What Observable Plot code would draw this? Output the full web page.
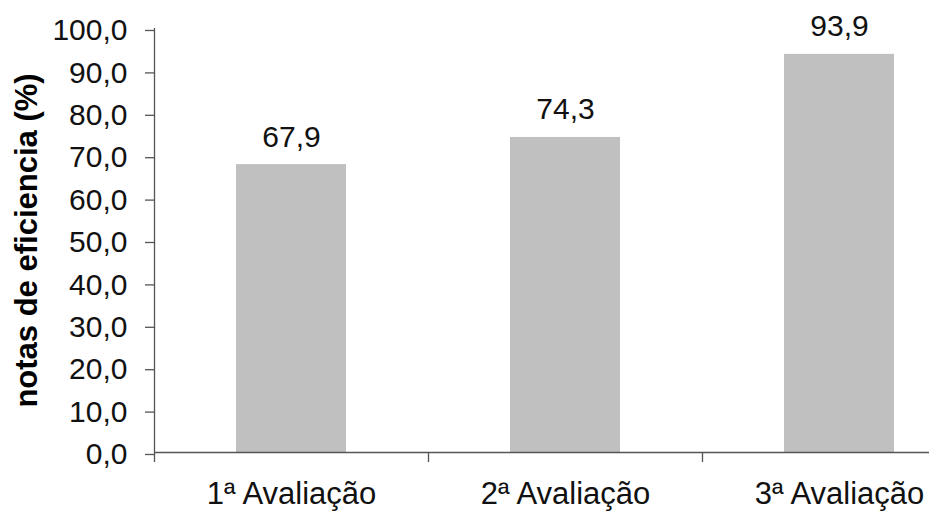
<!DOCTYPE html>
<html>
<head>
<meta charset="utf-8">
<script src="https://cdn.jsdelivr.net/npm/d3@7"></script>
<script src="https://cdn.jsdelivr.net/npm/@observablehq/plot@0.6"></script>
<style>
  html, body { margin: 0; padding: 0; background: #fff; overflow: hidden; }
</style>
</head>
<body>
<div id="chart"></div>
<script>
const categories = ["1ª Avaliação", "2ª Avaliação", "3ª Avaliação"];
const values = [67.9, 74.3, 93.9];
const yTicks = [0, 10, 20, 30, 40, 50, 60, 70, 80, 90, 100];
const yLabel = "notas de eficiencia (%)";

const data = categories.map((c, i) => ({c, v: values[i]}));
const fmt = d => d.toFixed(1).replace(".", ",");
const halfStep = 137;

const chart = Plot.plot({
  width: 929,
  height: 515,
  marginTop: 28,
  marginBottom: 63,
  marginLeft: 154,
  marginRight: 0,
  style: {fontFamily: "'Liberation Sans', Arial, sans-serif", background: "#fff", color: "#000"},
  x: {domain: categories, range: [154, 976], paddingInner: 0.6, paddingOuter: 0.3},
  y: {domain: [0, 100]},
  marks: [
    Plot.barY(data, {x: "c", y: "v", fill: "#c0c0c0"}),
    Plot.ruleY([0], {stroke: "#555", strokeWidth: 1.3}),
    Plot.ruleX([categories[0]], {x: d => d, dx: -halfStep, y1: 100, y2: 0, insetBottom: -10, stroke: "#555", strokeWidth: 1.3}),
    Plot.ruleX(categories.slice(1), {x: d => d, dx: -halfStep, y1: 0, y2: 0, insetBottom: -10, stroke: "#555", strokeWidth: 1.3}),
    Plot.axisY({ticks: yTicks, tickFormat: fmt, tickSize: 9, tickPadding: 18, fontSize: 30, dy: 2, stroke: "#555", strokeWidth: 1.3, fill: "#111", label: null}),
    Plot.axisX({tickSize: 0, tickPadding: 29, fontSize: 31, fill: "#111", label: null}),
    Plot.text(data, {x: "c", y: "v", text: d => fmt(d.v), dy: -18, lineAnchor: "bottom", fontSize: 30, fill: "#111"}),
    Plot.text([yLabel], {text: d => d, frameAnchor: "left", dx: -127, rotate: -90, textAnchor: "middle", lineAnchor: "middle", fontSize: 31, fontWeight: "bold", fill: "#000"})
  ]
});
document.getElementById("chart").appendChild(chart);
</script>
</body>
</html>
